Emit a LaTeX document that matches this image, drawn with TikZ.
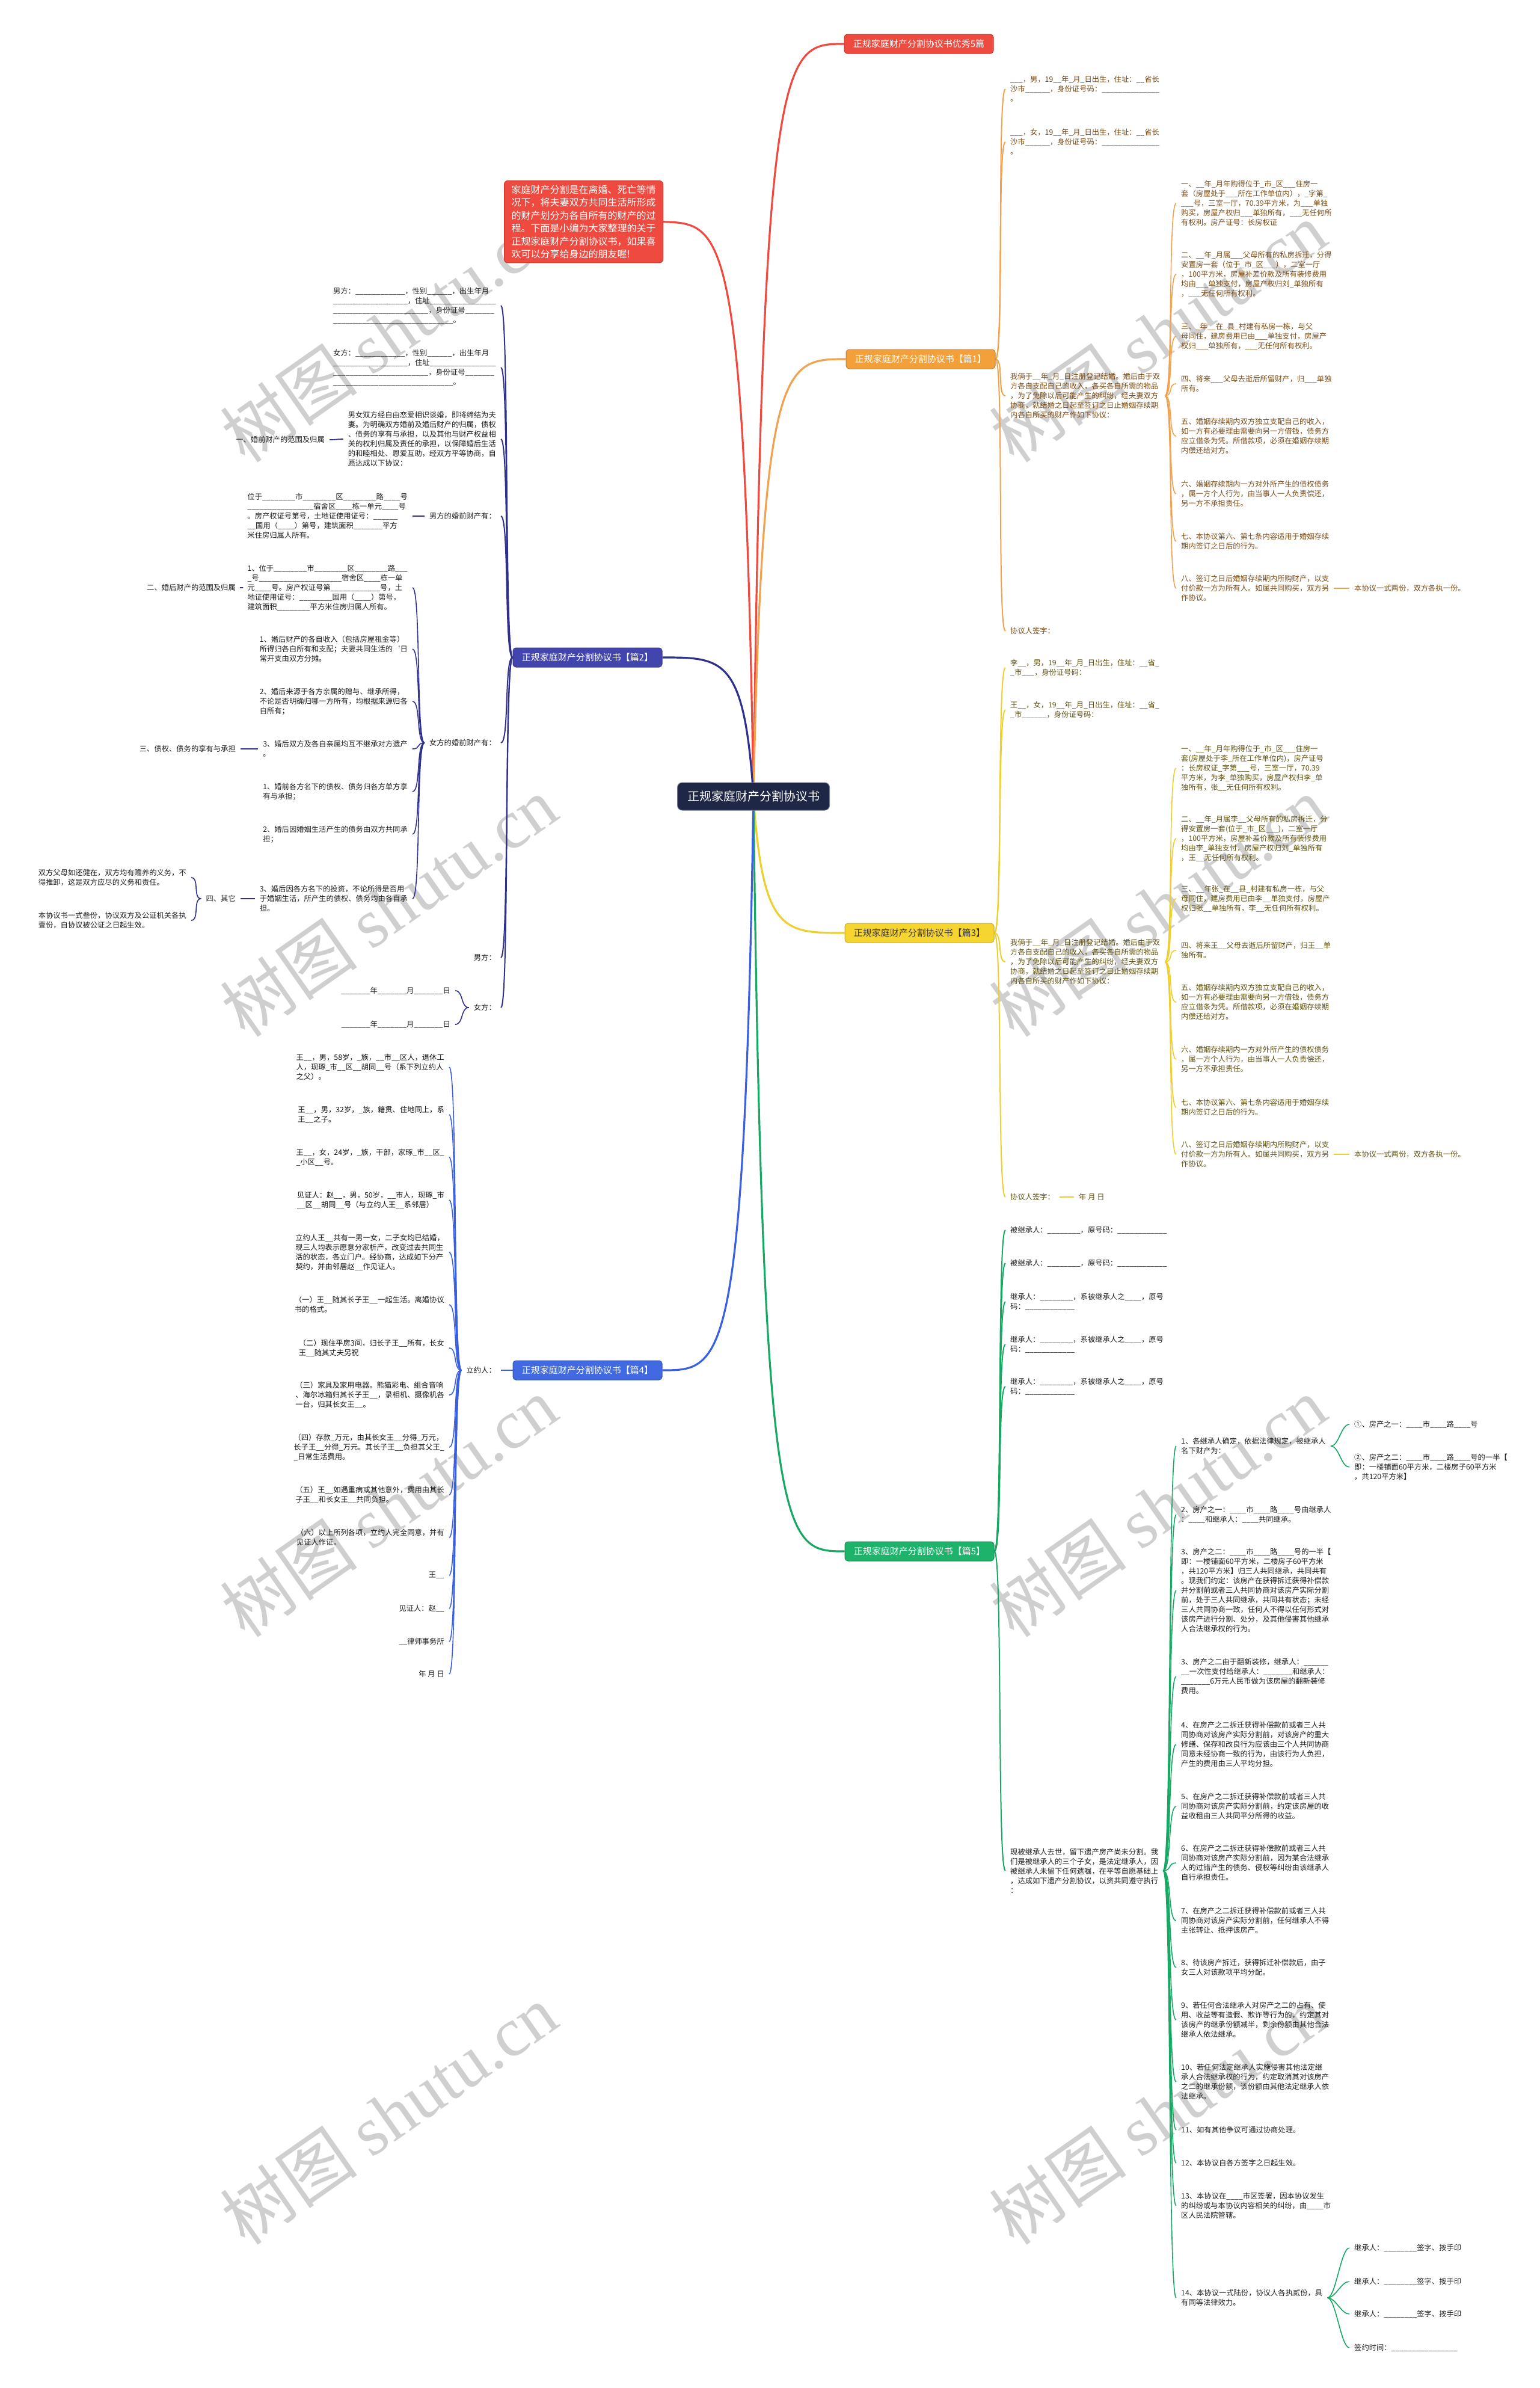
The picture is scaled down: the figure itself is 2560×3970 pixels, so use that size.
\documentclass[tikz,border=0pt]{standalone}
\usepackage{fontspec}
\setmainfont{Noto Sans CJK SC}
\newfontfamily\wmlatin{Liberation Serif}
\pgfdeclarelayer{wm}
\pgfdeclarelayer{bg}
\pgfsetlayers{wm,bg,main}
\definecolor{cred}{HTML}{EE4A3F}
\definecolor{credd}{HTML}{C9352C}
\definecolor{corange}{HTML}{F3A03B}
\definecolor{corangel}{HTML}{F2A24E}
\definecolor{cotext}{HTML}{7A4B14}
\definecolor{cyellow}{HTML}{F7D530}
\definecolor{cyellowl}{HTML}{EDCF2E}
\definecolor{cytext}{HTML}{5E5210}
\definecolor{cgreen}{HTML}{1DB36B}
\definecolor{cgreenl}{HTML}{17A863}
\definecolor{cnavy}{HTML}{4345AE}
\definecolor{cnavyl}{HTML}{2E308C}
\definecolor{cblue}{HTML}{4169E1}
\definecolor{cbluel}{HTML}{3A60E0}
\definecolor{ccenter}{HTML}{1E2746}
\definecolor{cdark}{HTML}{1E1E1E}
\newcommand\myRL[3]{\draw[#1] (#2.east) .. controls +(14,0) and +(-14,0) .. (#3.west);}
\newcommand\myLL[3]{\draw[#1] (#2.west) .. controls +(-14,0) and +(14,0) .. (#3.east);}
\begin{document}
\catcode`\_=12
\begin{tikzpicture}[x=1pt,y=-1pt,
  tx/.style={font=\fontsize{12.3}{16}\selectfont, inner xsep=8pt, inner ysep=2pt, align=left},
  rnode/.style={tx, anchor=west},
  lnode/.style={tx, anchor=east},
  brbox/.style={rounded corners=5pt, minimum width=248pt, minimum height=32pt, inner sep=0pt, font=\fontsize{15}{18}\selectfont, line width=1pt},
  wmk/.style={text=black!19, font=\fontsize{115}{120}\selectfont, rotate=35, inner sep=0pt},
  lk0/.style={line width=3.2pt},
  lk1/.style={line width=2pt},
  lk2/.style={line width=1.6pt}]
\useasboundingbox (0,0) rectangle (2560,3970);
\begin{pgfonlayer}{wm}
\fill[white] (0,0) rectangle (2560,3970);
\foreach \wx/\wy [count=\i] in {646/552, 1925/552, 646/1507, 1925/1507, 646/2505, 1925/2505, 646/3515, 1925/3515}
  \node[wmk] (wm\i) at (\wx,\wy) {树图 {\wmlatin shutu.cn}};
\end{pgfonlayer}

% ---------- center and branch boxes
\node[fill=ccenter, draw=ccenter!60!white, line width=1pt, rounded corners=8pt, text=white, minimum width=253pt, minimum height=46pt, inner sep=0pt, font=\fontsize{20}{24}\selectfont] (ctr) at (1253,1324) {正规家庭财产分割协议书};
\node[brbox, fill=cred, draw=credd, text=white] (r0) at (1528,73) {正规家庭财产分割协议书优秀5篇};
\node[fill=cred, draw=credd, line width=1pt, rounded corners=6pt, text=white, font=\fontsize{16}{21.5}\selectfont, align=left, inner xsep=12pt, inner ysep=7pt, anchor=north west] (intro) at (838,300) {家庭财产分割是在离婚、死亡等情\\况下，将夫妻双方共同生活所形成\\的财产划分为各自所有的财产的过\\程。下面是小编为大家整理的关于\\正规家庭财产分割协议书，如果喜\\欢可以分享给身边的朋友喔!};
\node[brbox, fill=corange, draw=corange!80!black, text=white] (b1) at (1531,597) {正规家庭财产分割协议书【篇1】};
\node[brbox, fill=cnavy, draw=cnavy!80!black, text=white] (b2) at (977,1093) {正规家庭财产分割协议书【篇2】};
\node[brbox, fill=cyellow, draw=cyellow!80!black, text=black!80] (b3) at (1529,1551) {正规家庭财产分割协议书【篇3】};
\node[brbox, fill=cblue, draw=cblue!80!black, text=white] (b4) at (977,2278) {正规家庭财产分割协议书【篇4】};
\node[brbox, fill=cgreen, draw=cgreen!80!black, text=white] (b5) at (1529,2579) {正规家庭财产分割协议书【篇5】};

% ---------- 篇1
\begin{scope}[every node/.append style={text=cotext}]
\node[rnode] (a1) at (1672,148) {___，男，19__年_月_日出生，住址：__省长\\沙市______，身份证号码：______________\\。};
\node[rnode] (a2) at (1672,236) {___，女，19__年_月_日出生，住址：__省长\\沙市______，身份证号码：______________\\。};
\node[rnode] (a3) at (1672,658) {我俩于__年_月_日注册登记结婚。婚后由于双\\方各自支配自己的收入，各买各自所需的物品\\，为了免除以后可能产生的纠纷，经夫妻双方\\协商，就结婚之日起至签订之日止婚姻存续期\\内各自所买的财产作如下协议：};
\node[rnode] (a4) at (1672,1049) {协议人签字：};
\node[rnode] (a31) at (1956,338) {一、__年_月年购得位于_市_区___住房一\\套（房屋处于___所在工作单位内），_字第_\\___号，三室一厅，70.39平方米，为___单独\\购买，房屋产权归___单独所有，___无任何所\\有权利。房产证号：长房权证};
\node[rnode] (a32) at (1956,456) {二、__年_月属___父母所有的私房拆迁，分得\\安置房一套（位于_市_区___），二室一厅\\，100平方米，房屋补差价款及所有装修费用\\均由___单独支付，房屋产权归刘_单独所有\\，___无任何所有权利。};
\node[rnode] (a33) at (1956,559) {三、_年__在_县_村建有私房一栋，与父\\母同住，建房费用已由___单独支付，房屋产\\权归___单独所有，___无任何所有权利。};
\node[rnode] (a34) at (1956,638) {四、将来___父母去逝后所留财产，归___单独\\所有。};
\node[rnode] (a35) at (1956,725) {五、婚姻存续期内双方独立支配自己的收入，\\如一方有必要理由需要向另一方借钱，债务方\\应立借条为凭。所借款项，必须在婚姻存续期\\内偿还给对方。};
\node[rnode] (a36) at (1956,821) {六、婚姻存续期内一方对外所产生的债权债务\\，属一方个人行为，由当事人一人负责偿还，\\另一方不承担责任。};
\node[rnode] (a37) at (1956,900) {七、本协议第六、第七条内容适用于婚姻存续\\期内签订之日后的行为。};
\node[rnode] (a38) at (1956,978) {八、签订之日后婚姻存续期内所购财产，以支\\付价款一方为所有人。如属共同购买，双方另\\作协议。};
\node[rnode] (a381) at (2244,978) {本协议一式两份，双方各执一份。};
\end{scope}

% ---------- 篇3
\begin{scope}[every node/.append style={text=cytext}]
\node[rnode] (d1) at (1672,1110) {李__，男，19__年_月_日出生，住址：__省_\\_市___，身份证号码：};
\node[rnode] (d2) at (1672,1180) {王__，女，19__年_月_日出生，住址：__省_\\_市______，身份证号码：};
\node[rnode] (d3) at (1672,1599) {我俩于__年_月_日注册登记结婚。婚后由于双\\方各自支配自己的收入，各买各自所需的物品\\，为了免除以后可能产生的纠纷，经夫妻双方\\协商，就结婚之日起至签订之日止婚姻存续期\\内各自所买的财产作如下协议：};
\node[rnode] (d4) at (1672,1990) {协议人签字：};
\node[rnode] (d41) at (1786,1990) {年 月 日};
\node[rnode] (e1) at (1956,1277) {一、__年_月年购得位于_市_区___住房一\\套(房屋处于李_所在工作单位内)，房产证号\\：长房权证_字第___号，三室一厅，70.39\\平方米，为李_单独购买，房屋产权归李_单\\独所有，张__无任何所有权利。};
\node[rnode] (e2) at (1956,1394) {二、__年_月属李__父母所有的私房拆迁，分\\得安置房一套(位于_市_区___)，二室一厅\\，100平方米，房屋补差价款及所有装修费用\\均由李_单独支付，房屋产权归刘_单独所有\\，王__无任何所有权利。};
\node[rnode] (e3) at (1956,1494) {三、__年张_在__县_村建有私房一栋，与父\\母同住，建房费用已由李__单独支付，房屋产\\权归张__单独所有，李__无任何所有权利。};
\node[rnode] (e4) at (1956,1580) {四、将来王__父母去逝后所留财产，归王__单\\独所有。};
\node[rnode] (e5) at (1956,1666) {五、婚姻存续期内双方独立支配自己的收入，\\如一方有必要理由需要向另一方借钱，债务方\\应立借条为凭。所借款项，必须在婚姻存续期\\内偿还给对方。};
\node[rnode] (e6) at (1956,1761) {六、婚姻存续期内一方对外所产生的债权债务\\，属一方个人行为，由当事人一人负责偿还，\\另一方不承担责任。};
\node[rnode] (e7) at (1956,1841) {七、本协议第六、第七条内容适用于婚姻存续\\期内签订之日后的行为。};
\node[rnode] (e8) at (1956,1919) {八、签订之日后婚姻存续期内所购财产，以支\\付价款一方为所有人。如属共同购买，双方另\\作协议。};
\node[rnode] (e81) at (2244,1919) {本协议一式两份，双方各执一份。};
\end{scope}

% ---------- 篇5
\begin{scope}[every node/.append style={text=cdark}]
\node[rnode] (f1) at (1672,2045) {被继承人：________，原号码：____________};
\node[rnode] (f2) at (1672,2100) {被继承人：________，原号码：____________};
\node[rnode] (f3) at (1672,2164) {继承人：________，系被继承人之____，原号\\码：____________};
\node[rnode] (f4) at (1672,2235) {继承人：________，系被继承人之____，原号\\码：____________};
\node[rnode] (f5) at (1672,2305) {继承人：________，系被继承人之____，原号\\码：____________};
\node[rnode] (f6) at (1672,3110) {现被继承人去世，留下遗产房产尚未分割。我\\们是被继承人的三个子女，是法定继承人，因\\被继承人未留下任何遗嘱，在平等自愿基础上\\，达成如下遗产分割协议，以资共同遵守执行\\：};
\node[rnode] (g1) at (1956,2404) {1、各继承人确定，依据法律规定，被继承人\\名下财产为：};
\node[rnode] (h1) at (2244,2368) {①、房产之一：____市____路____号};
\node[rnode] (h2) at (2244,2439) {②、房产之二：____市____路____号的一半【\\即：一楼铺面60平方米，二楼房子60平方米\\，共120平方米】};
\node[rnode] (g2) at (1956,2518) {2、房产之一：____市____路____号由继承人\\：____和继承人：____共同继承。};
\node[rnode] (g3) at (1956,2644) {3、房产之二：____市____路____号的一半【\\即：一楼铺面60平方米，二楼房子60平方米\\，共120平方米】归三人共同继承，共同共有\\。现我们约定：该房产在获得拆迁获得补偿款\\并分割前或者三人共同协商对该房产实际分割\\前，处于三人共同继承，共同共有状态；未经\\三人共同协商一致，任何人不得以任何形式对\\该房产进行分割、处分，及其他侵害其他继承\\人合法继承权的行为。};
\node[rnode] (g4) at (1956,2787) {3、房产之二由于翻新装修，继承人：______\\__一次性支付给继承人：_______和继承人：\\_______6万元人民币做为该房屋的翻新装修\\费用。};
\node[rnode] (g5) at (1956,2900) {4、在房产之二拆迁获得补偿款前或者三人共\\同协商对该房产实际分割前，对该房产的重大\\修缮、保存和改良行为应该由三个人共同协商\\同意未经协商一致的行为，由该行为人负担，\\产生的费用由三人平均分担。};
\node[rnode] (g6) at (1956,3003) {5、在房产之二拆迁获得补偿款前或者三人共\\同协商对该房产实际分割前，约定该房屋的收\\益收租由三人共同平分所得的收益。};
\node[rnode] (g7) at (1956,3097) {6、在房产之二拆迁获得补偿款前或者三人共\\同协商对该房产实际分割前，因为某合法继承\\人的过错产生的债务、侵权等纠纷由该继承人\\自行承担责任。};
\node[rnode] (g8) at (1956,3193) {7、在房产之二拆迁获得补偿款前或者三人共\\同协商对该房产实际分割前，任何继承人不得\\主张转让、抵押该房产。};
\node[rnode] (g9) at (1956,3271) {8、待该房产拆迁，获得拆迁补偿款后，由子\\女三人对该款项平均分配。};
\node[rnode] (g10) at (1956,3358) {9、若任何合法继承人对房产之二的占有、使\\用、收益等有造假、欺诈等行为的，约定其对\\该房产的继承份额减半，剩余份额由其他合法\\继承人依法继承。};
\node[rnode] (g11) at (1956,3461) {10、若任何法定继承人实施侵害其他法定继\\承人合法继承权的行为，约定取消其对该房产\\之二的继承份额，该份额由其他法定继承人依\\法继承。};
\node[rnode] (g12) at (1956,3541) {11、如有其他争议可通过协商处理。};
\node[rnode] (g13) at (1956,3596) {12、本协议自各方签字之日起生效。};
\node[rnode] (g14) at (1956,3667) {13、本协议在____市区签署，因本协议发生\\的纠纷或与本协议内容相关的纠纷，由____市\\区人民法院管辖。};
\node[rnode] (g15) at (1956,3820) {14、本协议一式陆份，协议人各执贰份，具\\有同等法律效力。};
\node[rnode] (k1) at (2244,3737) {继承人：________签字、按手印};
\node[rnode] (k2) at (2244,3793) {继承人：________签字、按手印};
\node[rnode] (k3) at (2244,3847) {继承人：________签字、按手印};
\node[rnode] (k4) at (2244,3903) {签约时间：________________};
\end{scope}

% ---------- 篇2
\begin{scope}[every node/.append style={text=cdark}]
\node[lnode] (l1) at (833,508) {男方：____________，性别______，出生年月\\__________________，住址________________\\_______________________，身份证号_______\\_____________________________。};
\node[lnode] (l2) at (833,611) {女方：____________，性别______，出生年月\\__________________，住址________________\\_______________________，身份证号_______\\_____________________________。};
\node[lnode] (l3) at (833,730) {男女双方经自由恋爱相识谈婚，即将缔结为夫\\妻。为明确双方婚前及婚后财产的归属，债权\\、债务的享有与承担，以及其他与财产权益相\\关的权利归属及责任的承担，以保障婚后生活\\的和睦相处、恩爱互助，经双方平等协商，自\\愿达成以下协议：};
\node[lnode] (l31) at (548,731) {一、婚前财产的范围及归属};
\node[lnode] (l4) at (833,858) {男方的婚前财产有：};
\node[lnode] (l41) at (686,858) {位于________市________区________路____号\\________________宿舍区____栋一单元____号\\。房产权证号第号，土地证使用证号：______\\__国用（____）第号，建筑面积_______平方\\米住房归属人所有。};
\node[lnode] (l5) at (833,1235) {女方的婚前财产有：};
\node[lnode] (m1) at (686,977) {1、位于________市________区________路___\\_号____________________宿舍区____栋一单\\元____号。房产权证号第____________号，土\\地证使用证号：________国用（____）第号，\\建筑面积________平方米住房归属人所有。};
\node[lnode] (m11) at (400,977) {二、婚后财产的范围及归属};
\node[lnode] (m2) at (686,1079) {1、婚后财产的各自收入（包括房屋租金等）\\所得归各自所有和支配；夫妻共同生活的`日\\常开支由双方分摊。};
\node[lnode] (m3) at (686,1166) {2、婚后来源于各方亲属的赠与、继承所得，\\不论是否明确归哪一方所有，均根据来源归各\\自所有；};
\node[lnode] (m4) at (686,1245) {3、婚后双方及各自亲属均互不继承对方遗产\\。};
\node[lnode] (m41) at (400,1245) {三、债权、债务的享有与承担};
\node[lnode] (m5) at (686,1316) {1、婚前各方名下的债权、债务归各方单方享\\有与承担；};
\node[lnode] (m6) at (686,1387) {2、婚后因婚姻生活产生的债务由双方共同承\\担；};
\node[lnode] (m7) at (686,1494) {3、婚后因各方名下的投资，不论所得是否用\\于婚姻生活，所产生的债权、债务均由各自承\\担。};
\node[lnode] (m71) at (400,1494) {四、其它};
\node[lnode] (m711) at (318,1459) {双方父母如还健在，双方均有赡养的义务，不\\得推卸，这是双方应尽的义务和责任。};
\node[lnode] (m712) at (318,1530) {本协议书一式叁份，协议双方及公证机关各执\\壹份，自协议被公证之日起生效。};
\node[lnode] (l6) at (833,1592) {男方：};
\node[lnode] (l7) at (833,1675) {女方：};
\node[lnode] (l71) at (757,1647) {_______年_______月_______日};
\node[lnode] (l72) at (757,1703) {_______年_______月_______日};
\end{scope}

% ---------- 篇4
\begin{scope}[every node/.append style={text=black!92}]
\node[lnode] (n0) at (833,2278) {立约人：};
\node[lnode] (n1) at (747,1774) {王__，男，58岁，_族，__市__区人，退休工\\人，现琢_市__区__胡同__号（系下列立约人\\之父）。};
\node[lnode] (n2) at (747,1853) {王__，男，32岁，_族，籍贯、住地同上，系\\王__之子。};
\node[lnode] (n3) at (747,1924) {王__，女，24岁，_族，干部，家琢_市__区_\\_小区__号。};
\node[lnode] (n4) at (747,1995) {见证人：赵__，男，50岁，__市人，现琢_市\\__区__胡同__号（与立约人王__系邻居）};
\node[lnode] (n5) at (747,2082) {立约人王__共有一男一女，二子女均已结婚，\\现三人均表示愿意分家析产，改变过去共同生\\活的状态，各立门户。经协商，达成如下分产\\契约，并由邻居赵__作见证人。};
\node[lnode] (n6) at (747,2169) {（一）王__随其长子王__一起生活。离婚协议\\书的格式。};
\node[lnode] (n7) at (747,2241) {（二）现住平房3间，归长子王__所有，长女\\王__随其丈夫另祝};
\node[lnode] (n8) at (747,2319) {（三）家具及家用电器。熊猫彩电、组合音响\\、海尔冰箱归其长子王__，录相机、摄像机各\\一台，归其长女王__。};
\node[lnode] (n9) at (747,2406) {（四）存款_万元，由其长女王__分得_万元，\\长子王__分得_万元。其长子王__负担其父王_\\_日常生活费用。};
\node[lnode] (n10) at (747,2485) {（五）王__如遇重病或其他意外，费用由其长\\子王__和长女王__共同负担。};
\node[lnode] (n11) at (747,2556) {（六）以上所列各项，立约人完全同意，并有\\见证人作证。};
\node[lnode] (n12) at (747,2619) {王__};
\node[lnode] (n13) at (747,2674) {见证人：赵__};
\node[lnode] (n14) at (747,2729) {__律师事务所};
\node[lnode] (n15) at (747,2783) {年 月 日};
\end{scope}

% ---------- connectors
\begin{pgfonlayer}{bg}
\draw[cred,lk0] (ctr.center) .. controls (1268,73) and (1303,73) .. (r0.west);
\draw[cred,lk0] (ctr.center) .. controls (1238,372) and (1203,372) .. (intro.east);
\draw[corangel,lk0] (ctr.center) .. controls (1268,597) and (1303,597) .. (b1.west);
\draw[cyellowl,lk0] (ctr.center) .. controls (1268,1551) and (1303,1551) .. (b3.west);
\draw[cgreenl,lk0] (ctr.center) .. controls (1268,2579) and (1303,2579) .. (b5.west);
\draw[cnavyl,lk0] (ctr.center) .. controls (1238,1093) and (1203,1093) .. (b2.east);
\draw[cbluel,lk0] (ctr.center) .. controls (1238,2278) and (1203,2278) .. (b4.east);
\foreach \c in {a1,a2,a3,a4} {\myRL{corangel,lk1}{b1}{\c}}
\foreach \c in {a31,a32,a33,a34,a35,a36,a37,a38} {\myRL{corangel,lk2}{a3}{\c}}
\myRL{corangel,lk2}{a38}{a381}
\foreach \c in {d1,d2,d3,d4} {\myRL{cyellowl,lk1}{b3}{\c}}
\foreach \c in {e1,e2,e3,e4,e5,e6,e7,e8} {\myRL{cyellowl,lk2}{d3}{\c}}
\myRL{cyellowl,lk2}{e8}{e81}
\myRL{cyellowl,lk2}{d4}{d41}
\foreach \c in {f1,f2,f3,f4,f5,f6} {\myRL{cgreenl,lk1}{b5}{\c}}
\foreach \c in {g1,g2,g3,g4,g5,g6,g7,g8,g9,g10,g11,g12,g13,g14,g15} {\myRL{cgreenl,lk2}{f6}{\c}}
\foreach \c in {h1,h2} {\myRL{cgreenl,lk2}{g1}{\c}}
\foreach \c in {k1,k2,k3,k4} {\myRL{cgreenl,lk2}{g15}{\c}}
\foreach \c in {l1,l2,l3,l4,l5,l6,l7} {\myLL{cnavyl,lk1}{b2}{\c}}
\myLL{cnavyl,lk2}{l3}{l31}
\myLL{cnavyl,lk2}{l4}{l41}
\foreach \c in {m1,m2,m3,m4,m5,m6,m7} {\myLL{cnavyl,lk2}{l5}{\c}}
\myLL{cnavyl,lk2}{m1}{m11}
\myLL{cnavyl,lk2}{m4}{m41}
\myLL{cnavyl,lk2}{m7}{m71}
\foreach \c in {m711,m712} {\myLL{cnavyl,lk2}{m71}{\c}}
\foreach \c in {l71,l72} {\myLL{cnavyl,lk2}{l7}{\c}}
\myLL{cbluel,lk1}{b4}{n0}
\foreach \c in {n1,n2,n3,n4,n5,n6,n7,n8,n9,n10,n11,n12,n13,n14,n15} {\myLL{cbluel,lk2}{n0}{\c}}
\end{pgfonlayer}
\end{tikzpicture}
\end{document}
